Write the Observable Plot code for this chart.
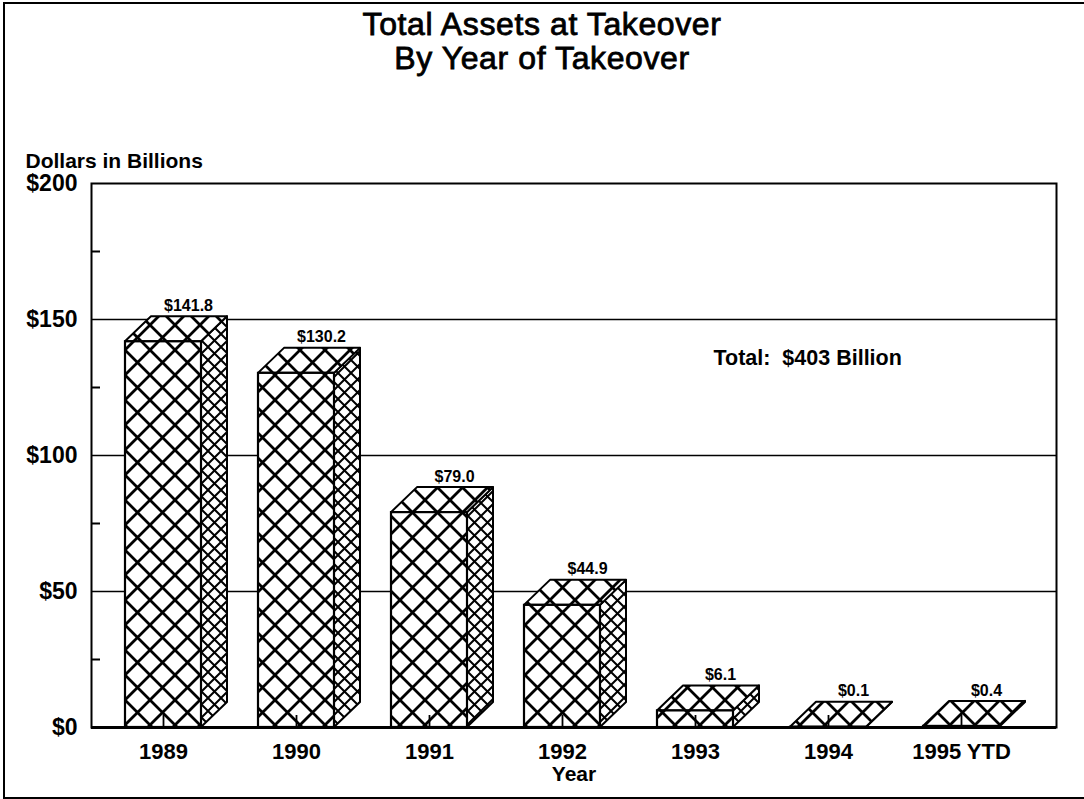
<!DOCTYPE html>
<html>
<head>
<meta charset="utf-8">
<script src="https://cdn.jsdelivr.net/npm/d3@7"></script>
<script src="https://cdn.jsdelivr.net/npm/@observablehq/plot@0.6"></script>
<style>
  html, body { margin: 0; padding: 0; background: white; overflow: hidden; }
  body { width: 1084px; height: 799px; position: relative; font-family: "Liberation Sans", Arial, Helvetica, sans-serif; }
  .title { position: absolute; left: 0; width: 1084px; text-align: center; font-size: 32px; font-weight: normal; line-height: 34px; letter-spacing: 0.6px; -webkit-text-stroke: 0.8px #000; color: #000; }
  #chart { position: absolute; left: 0; top: 100px; }
  #border { position: absolute; left: 3px; top: 2px; width: 1100px; height: 797px; border: 2px solid #000; box-sizing: border-box; pointer-events: none; }
</style>
</head>
<body>
<div class="title" style="top:7px">Total Assets at Takeover</div>
<div class="title" style="top:41px">By Year of Takeover</div>
<div id="chart"></div>
<div id="border"></div>
<script>
// ---- data ----
const years = ["1989", "1990", "1991", "1992", "1993", "1994", "1995 YTD"];
const assets = [141.8, 130.2, 79.0, 44.9, 6.1, 0.1, 0.4];
const valueLabels = ["$141.8", "$130.2", "$79.0", "$44.9", "$6.1", "$0.1", "$0.4"];
const yTicks = [0, 50, 100, 150, 200];
const yMinorTicks = [25, 75, 125, 175];
const gridTicks = [50, 100, 150];
const yAxisLabel = "Dollars in Billions";
const xAxisLabel = "Year";
const totalLabel = "Total:  $403 Billion";

const data = years.map((year, i) => ({year, value: assets[i], label: valueLabels[i]}));

// 3D depth offset (pixels)
const DX = 26, DY = 25;

function faces(index, scales) {
  const x = scales.x, y = scales.y;
  const bw = x.bandwidth();
  const g = d3.create("svg:g");
  for (const d of data) {
    const x0 = x(d.year), x1 = x0 + bw, yv = y(d.value), y0 = y(0);
    g.append("path")
      .attr("d", `M${x1},${yv}L${x1 + DX},${yv - DY}L${x1 + DX},${y0 - DY}L${x1},${y0}Z`)
      .attr("fill", "url(#hatchSide)").attr("stroke", "black").attr("stroke-width", 2).attr("stroke-linejoin", "round");
    g.append("path")
      .attr("d", `M${x0},${yv}L${x0 + DX},${yv - DY}L${x1 + DX},${yv - DY}L${x1},${yv}Z`)
      .attr("fill", "url(#hatchFront)").attr("stroke", "black").attr("stroke-width", 2).attr("stroke-linejoin", "round");
  }
  return g.node();
}

const chart = Plot.plot({
  width: 1084,
  height: 699,
  marginTop: 83,
  marginBottom: 72,
  marginLeft: 91,
  marginRight: 28,
  style: {background: "transparent", fontFamily: "'Liberation Sans', Arial, Helvetica, sans-serif", color: "black", overflow: "visible"},
  x: {domain: years, range: [95.4, 1028.1], paddingInner: 0.43, paddingOuter: 0.215},
  y: {domain: [0, 200]},
  marks: [
    Plot.gridY({ticks: gridTicks, stroke: "black", strokeOpacity: 1, strokeWidth: 1.4}),
    faces,
    Plot.barY(data, {x: "year", y: "value", fill: "url(#hatchFront)", stroke: "black", strokeWidth: 2.2}),
    Plot.frame({stroke: "black", strokeWidth: 2}),
    Plot.ruleY([0], {stroke: "black", strokeWidth: 3}),
    Plot.axisY({ticks: yMinorTicks, anchor: "right", frameAnchor: "left", tickSize: 8, strokeWidth: 2, fill: "none", label: null}),
    Plot.axisX({anchor: "top", frameAnchor: "bottom", tickSize: 13, strokeWidth: 1.8, fill: "none", label: null}),
    Plot.axisY({ticks: yTicks, tickFormat: d => "$" + d, tickSize: 0, tickPadding: 14, fontSize: 23, fontWeight: "bold", label: null}),
    Plot.axisX({tickSize: 0, tickPadding: 16, fontSize: 22, fontWeight: "bold", label: null}),
    Plot.text(data, {x: "year", y: "value", text: "label", dx: DX - 1, dy: -(DY + 11), fontSize: 16, fontWeight: "bold"}),
    Plot.text([yAxisLabel], {text: d => d, frameAnchor: "top-left", textAnchor: "start", dx: -66, dy: -30, fontSize: 21, fontWeight: "bold"}),
    Plot.text([totalLabel], {text: d => d, frameAnchor: "top-left", textAnchor: "start", dx: 622, dy: 166, fontSize: 21.5, fontWeight: "bold"}),
    Plot.text([xAxisLabel], {text: d => d, frameAnchor: "bottom", dy: 53, fontSize: 21, fontWeight: "bold"})
  ]
});

d3.select(chart).insert("defs", ":first-child").html(`
  <pattern id="hatchFront" patternUnits="userSpaceOnUse" width="25" height="25">
    <rect width="25" height="25" fill="white"/>
    <path d="M0,0L25,25M25,0L0,25" stroke="black" stroke-width="2.8" stroke-linecap="square"/>
  </pattern>
  <pattern id="hatchSide" patternUnits="userSpaceOnUse" width="13" height="13">
    <rect width="13" height="13" fill="white"/>
    <path d="M0,0L13,13M13,0L0,13" stroke="black" stroke-width="2" stroke-linecap="square"/>
  </pattern>
`);

document.getElementById("chart").appendChild(chart);
</script>
</body>
</html>
